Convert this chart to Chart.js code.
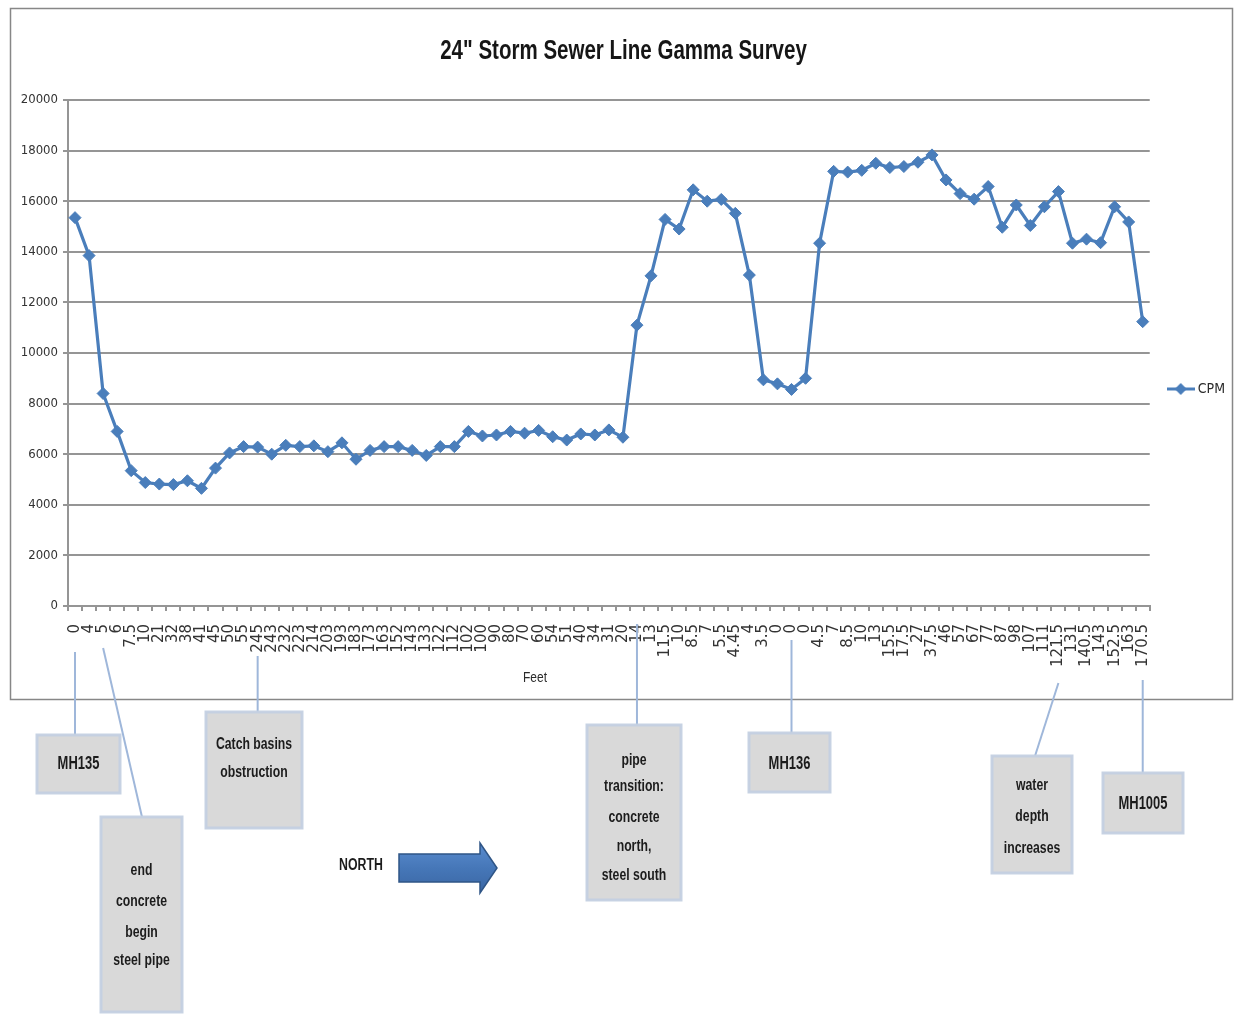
<!DOCTYPE html>
<html>
<head>
<meta charset="utf-8">
<title>24" Storm Sewer Line Gamma Survey</title>
<script src="https://cdn.jsdelivr.net/npm/chart.js@4.4.1/dist/chart.umd.min.js"></script>
<style>
  html, body { margin: 0; padding: 0; background: #ffffff; }
  #wrap { position: relative; width: 1235px; height: 1015px; }
  canvas { display: block; }
</style>
</head>
<body>
<div id="wrap"><canvas id="survey" width="1235" height="1015"></canvas></div>
<script>
// Stations along the line (feet), in the order the probe logged them
const feet = ['0','4','5','6','7.5','10','21','32','38','41','45','50','55',
  '245','243','232','223','214','203','193','183','173','163','152','143','133','122','112',
  '102','100','90','80','70','60','54','51','40','34','31','20',
  '14','13','11.5','10','8.5','7','5.5','4.45','4','3.5','0','0','0',
  '4.5','7','8.5','10','13','15.5','17.5','27','37.5','46','57','67','77','87','98',
  '107','111','121.5','131','140.5','143','152.5','163','170.5'];

// Gamma counts per minute at each station
const cpm = [15350, 13850, 8400, 6900, 5350, 4880, 4820, 4800, 4950, 4650, 5450, 6050, 6300,
  6280, 6000, 6350, 6300, 6330, 6100, 6450, 5800, 6150, 6300, 6300, 6150, 5950, 6300, 6300,
  6900, 6720, 6760, 6900, 6830, 6940, 6690, 6560, 6800, 6760, 6960, 6670,
  11100, 13050, 15280, 14900, 16450, 16000, 16070, 15520, 13080, 8940, 8780, 8560, 9000,
  14340, 17180, 17150, 17220, 17500, 17330, 17370, 17540, 17830, 16840, 16300, 16080, 16580,
  14970, 15850, 15040, 15780, 16380, 14340, 14500, 14360, 15780, 15180, 11240];

const chartTitle = '24" Storm Sewer Line Gamma Survey';
const axisTitle = 'Feet';
const seriesName = 'CPM';
const yMin = 0, yMax = 20000, yStep = 2000;

// Field notes: which station each note points at, and its text
const noteStations = [0, 2, 13, 40, 51, 70, 76];
const noteTexts = [
  ['MH135'],
  ['end', 'concrete', 'begin', 'steel pipe'],
  ['Catch basins', 'obstruction'],
  ['pipe', 'transition:', 'concrete', 'north,', 'steel south'],
  ['MH136'],
  ['water', 'depth', 'increases'],
  ['MH1005']
];

// Placement of the note boxes under the chart
const noteLayout = [
  { box: [37, 735, 83, 58],   lines: [764],                     size: 18, from: 652, toX: null },
  { box: [101, 817, 81, 195], lines: [870, 901, 932, 960],      size: 17, from: 648, toX: 142 },
  { box: [206, 712, 96, 116], lines: [744, 772],                size: 17, from: 656, toX: null },
  { box: [587, 725, 94, 175], lines: [760, 786, 817, 846, 875], size: 17, from: 624, toX: null },
  { box: [749, 733, 81, 59],  lines: [764],                     size: 18, from: 640, toX: null },
  { box: [992, 756, 80, 117], lines: [785, 816, 848],           size: 17, from: 683, toX: 1035 },
  { box: [1103, 773, 80, 60], lines: [804],                     size: 18, from: 680, toX: null }
];

const COND = '"DejaVu Sans Condensed", "DejaVu Sans", sans-serif';
const SANS = '"Liberation Sans", Arial, sans-serif';
const LINE_BLUE = '#4a7ebb';
const GRID = '#959595';

// Legend key: a short line with a diamond on it
const legendMark = document.createElement('canvas');
legendMark.width = 28; legendMark.height = 14;
(function () {
  const g = legendMark.getContext('2d');
  g.strokeStyle = LINE_BLUE; g.lineWidth = 3;
  g.beginPath(); g.moveTo(0, 7); g.lineTo(28, 7); g.stroke();
  g.fillStyle = LINE_BLUE;
  g.beginPath(); g.moveTo(14, 1); g.lineTo(20, 7); g.lineTo(14, 13); g.lineTo(8, 7); g.closePath(); g.fill();
})();

// Narrow lettering: draw with a horizontal squeeze around the text centre
function narrowText(ctx, text, x, y, size, bold, squeeze) {
  ctx.save();
  ctx.translate(x, y);
  ctx.scale(squeeze, 1);
  ctx.font = (bold ? 'bold ' : '') + size + 'px ' + SANS;
  ctx.textAlign = 'center';
  ctx.textBaseline = 'middle';
  ctx.fillText(text, 0, 0);
  ctx.restore();
}

const pageDecor = {
  id: 'pageDecor',
  beforeDraw(chart) {
    const { ctx } = chart;
    ctx.save();
    ctx.fillStyle = '#ffffff';
    ctx.fillRect(0, 0, chart.width, chart.height);
    ctx.strokeStyle = '#878787';
    ctx.lineWidth = 1.5;
    ctx.strokeRect(10.5, 8.5, 1222, 691);
    ctx.restore();
  },
  afterDraw(chart) {
    const { ctx } = chart;
    const xs = chart.scales.x;
    ctx.save();

    // chart heading and axis caption
    ctx.fillStyle = '#161616';
    narrowText(ctx, chartTitle, 623.5, 52, 27, true, 0.76);
    ctx.fillStyle = '#2b2b2b';
    narrowText(ctx, axisTitle, 535, 678, 15, false, 0.8);

    noteLayout.forEach((n, i) => {
      const sx = xs.getPixelForValue(noteStations[i]);
      const [bx, by, bw, bh] = n.box;
      const ex = n.toX == null ? sx : n.toX;
      // connector
      ctx.strokeStyle = '#9fb7da';
      ctx.lineWidth = 2;
      ctx.beginPath();
      ctx.moveTo(sx, n.from);
      ctx.lineTo(ex, by);
      ctx.stroke();
      // box
      ctx.fillStyle = '#d9d9d9';
      ctx.fillRect(bx, by, bw, bh);
      ctx.strokeStyle = 'rgba(196, 208, 226, 0.95)';
      ctx.lineWidth = 3;
      ctx.strokeRect(bx, by, bw, bh);
      // text
      ctx.fillStyle = '#1c1c1c';
      noteTexts[i].forEach((t, k) => narrowText(ctx, t, bx + bw / 2, n.lines[k], n.size, true, 0.72));
    });

    // direction arrow
    ctx.fillStyle = '#1c1c1c';
    narrowText(ctx, 'NORTH', 361, 866, 16, true, 0.77);

    const grad = ctx.createLinearGradient(0, 843, 0, 893);
    grad.addColorStop(0, '#5a8ccf');
    grad.addColorStop(0.5, '#4677b8');
    grad.addColorStop(1, '#3a66a3');
    ctx.fillStyle = grad;
    ctx.strokeStyle = '#2f5586';
    ctx.lineWidth = 1.5;
    ctx.beginPath();
    ctx.moveTo(399, 854);
    ctx.lineTo(480, 854);
    ctx.lineTo(480, 843);
    ctx.lineTo(497, 868);
    ctx.lineTo(480, 893);
    ctx.lineTo(480, 882);
    ctx.lineTo(399, 882);
    ctx.closePath();
    ctx.fill();
    ctx.stroke();

    ctx.restore();
  }
};

new Chart(document.getElementById('survey'), {
  type: 'line',
  data: {
    labels: feet,
    datasets: [{
      label: seriesName,
      data: cpm,
      borderColor: LINE_BLUE,
      backgroundColor: LINE_BLUE,
      borderWidth: 3.2,
      tension: 0,
      pointStyle: 'rectRot',
      pointRadius: 6,
      pointBackgroundColor: LINE_BLUE,
      pointBorderColor: LINE_BLUE,
      pointBorderWidth: 1,
      fill: false
    }]
  },
  options: {
    responsive: false,
    animation: false,
    devicePixelRatio: 1,
    layout: { padding: { left: 12, right: 0, top: 100, bottom: 315 } },
    plugins: {
      title: { display: false },
      legend: {
        display: true,
        position: 'right',
        align: 'center',
        fullSize: false,
        // blank title nudges the single entry down the side panel
        title: { display: true, text: '', padding: { top: 57.6, bottom: 0 }, font: { size: 12 } },
        labels: {
          usePointStyle: true,
          pointStyleWidth: 20,
          padding: 21,
          color: '#2b2b2b',
          font: { family: COND, size: 14 },
          generateLabels(chart) {
            const items = Chart.defaults.plugins.legend.labels.generateLabels(chart);
            items.forEach(it => { it.pointStyle = legendMark; });
            return items;
          }
        }
      },
      tooltip: { enabled: false }
    },
    scales: {
      x: {
        type: 'category',
        offset: true,
        afterFit(scale) { scale.height = 94; },
        grid: {
          offset: true,
          drawOnChartArea: false,
          drawTicks: true,
          tickLength: 5,
          color: GRID,
          lineWidth: 2
        },
        border: { display: true, color: GRID, width: 2 },
        ticks: {
          autoSkip: false,
          minRotation: 90,
          maxRotation: 90,
          padding: 13,
          color: '#333333',
          font: { family: '"DejaVu Sans", sans-serif', size: 15 }
        },
        title: { display: false }
      },
      y: {
        min: yMin,
        max: yMax,
        afterFit(scale) { scale.width = 56; },
        ticks: {
          stepSize: yStep,
          padding: 5,
          color: '#333333',
          font: { family: COND, size: 13 },
          callback: v => String(v)
        },
        grid: {
          color: GRID,
          lineWidth: 2,
          drawTicks: true,
          tickLength: 5
        },
        border: { display: true, color: GRID, width: 2 }
      }
    }
  },
  plugins: [pageDecor]
});
</script>
</body>
</html>
